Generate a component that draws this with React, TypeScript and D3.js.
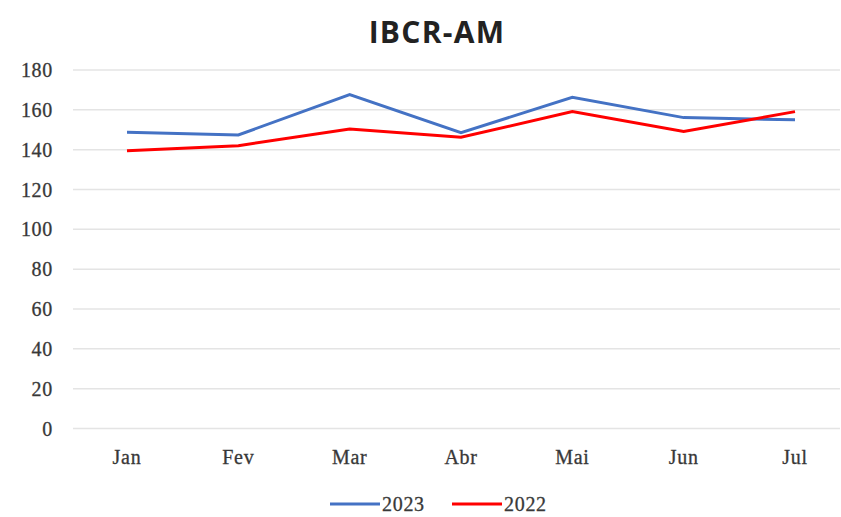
import React from "react";
import { scalePoint, scaleLinear, line } from "d3";

// data
const months = ["Jan", "Fev", "Mar", "Abr", "Mai", "Jun", "Jul"];
const values2023 = [148.8, 147.4, 167.6, 148.5, 166.3, 156.1, 155.0];
const values2022 = [139.4, 142.0, 150.4, 146.2, 159.1, 149.1, 159.1];
const yTicks = [0, 20, 40, 60, 80, 100, 120, 140, 160, 180];

const W = 841;
const H = 517;

const App = () => {
  // scales
  const x = scalePoint<string>().domain(months).range([127, 795]);
  const y = scaleLinear().domain([0, 180]).range([428.5, 70]);

  const path = line<number>()
    .x((_, i) => x(months[i]) as number)
    .y((d) => y(d));

  const serif = "'Liberation Serif', 'Times New Roman', serif";
  const labelStyle = {
    fontFamily: serif,
    fontSize: 20,
    letterSpacing: 0.7,
    fill: "#383838",
    stroke: "#383838",
    strokeWidth: 0.3,
  };

  return (
    <svg
      width={W}
      height={H}
      style={{ position: "absolute", left: 0, top: 0, background: "#fff" }}
    >
      {/* title */}
      <text
        x={437}
        y={43}
        textAnchor="middle"
        fontFamily="'Open Sans', sans-serif"
        fontWeight={700}
        fontSize={30}
        letterSpacing={1.3}
        fill="#222"
      >
        IBCR-AM
      </text>

      {/* gridlines + y labels */}
      {yTicks.map((t) => (
        <g key={t}>
          <line x1={73} x2={840} y1={y(t)} y2={y(t)} stroke="#e4e4e4" strokeWidth={1.5} />
          <text x={53} y={y(t)} dy="0.35em" textAnchor="end" style={labelStyle}>
            {t}
          </text>
        </g>
      ))}

      {/* x labels */}
      {months.map((m) => (
        <text key={m} x={x(m)} y={464} textAnchor="middle" style={labelStyle}>
          {m}
        </text>
      ))}

      {/* lines */}
      <path d={path(values2023) || ""} fill="none" stroke="#4472C4" strokeWidth={3} />
      <path d={path(values2022) || ""} fill="none" stroke="#FF0000" strokeWidth={3} />

      {/* legend */}
      <line x1={330} x2={380} y1={504} y2={504} stroke="#4472C4" strokeWidth={3} />
      <text x={382} y={511} style={labelStyle}>
        2023
      </text>
      <line x1={452} x2={502} y1={504} y2={504} stroke="#FF0000" strokeWidth={3} />
      <text x={504} y={511} style={labelStyle}>
        2022
      </text>
    </svg>
  );
};

export default App;
